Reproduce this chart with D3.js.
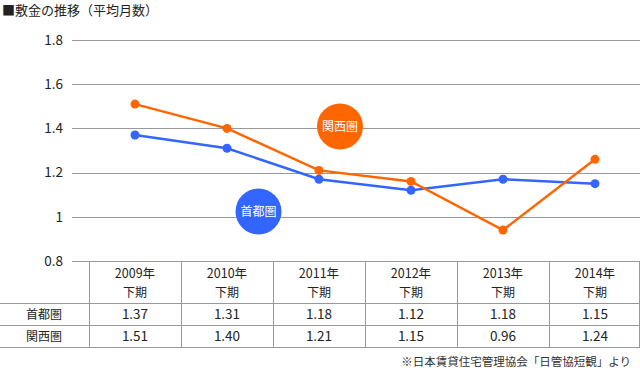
<!DOCTYPE html>
<html>
<head>
<meta charset="utf-8">
<script src="https://cdn.jsdelivr.net/npm/d3@7"></script>
<style>
  body { margin: 0; background: #fff; }
  svg text { font-family: "Noto Sans CJK JP", "Noto Sans", sans-serif; fill: #222; }
</style>
</head>
<body>
<svg id="chart" width="640" height="370"></svg>
<script>
// categories (two-line header labels)
const years = ["2009年", "2010年", "2011年", "2012年", "2013年", "2014年"];
const halves = ["下期", "下期", "下期", "下期", "下期", "下期"];
// plotted values as they sit in the picture
const shutoValues = [1.37, 1.31, 1.17, 1.12, 1.17, 1.15];
const kansaiValues = [1.51, 1.40, 1.21, 1.16, 0.94, 1.26];
// table texts
const shutoTable = ["1.37", "1.31", "1.18", "1.12", "1.18", "1.15"];
const kansaiTable = ["1.51", "1.40", "1.21", "1.15", "0.96", "1.24"];
const yTicks = [0.8, 1, 1.2, 1.4, 1.6, 1.8];

const svg = d3.select("#chart");
const gridColor = "#999";
const blue = "#3366ff", orange = "#ff6600";

//Scales
const x = d3.scaleBand().domain(d3.range(years.length)).range([89, 641]);
const y = d3.scaleLinear().domain([0.8, 1.8]).range([261, 40]);

//Title
svg.append("text").attr("x", 2).attr("y", 15)
  .attr("font-size", 13).text("■敷金の推移（平均月数）");

//Grid lines + y labels
const yAxis = svg.append("g").attr("transform", "translate(72,0)")
  .call(d3.axisLeft(y).tickValues(yTicks).tickSize(0).tickPadding(9)
    .tickFormat(d => d3.format("")(d)));
yAxis.select(".domain").remove();
yAxis.selectAll("text").attr("font-size", 13.5).attr("fill", "#222")
  .attr("font-family", "\"Noto Sans CJK JP\", sans-serif");
svg.append("g").selectAll("line").data(yTicks).enter().append("line")
  .attr("x1", 72).attr("x2", 640)
  .attr("y1", d => Math.round(y(d)) + 0.5).attr("y2", d => Math.round(y(d)) + 0.5)
  .attr("stroke", gridColor);

//Table
const tbl = svg.append("g");
const rowLines = [303, 325, 347];
rowLines.forEach(r => tbl.append("line").attr("x1", 0).attr("x2", 640)
  .attr("y1", r + 0.5).attr("y2", r + 0.5).attr("stroke", gridColor));
const colEdges = d3.range(years.length).map(i => x(i)).concat([639]);
colEdges.forEach(c => tbl.append("line")
  .attr("x1", Math.round(c) + 0.5).attr("x2", Math.round(c) + 0.5)
  .attr("y1", 261).attr("y2", 347).attr("stroke", gridColor));

const cx = i => x(i) + x.bandwidth() / 2;
tbl.selectAll(".yr").data(years).enter().append("text")
  .attr("x", (d, i) => cx(i)).attr("y", 278).attr("text-anchor", "middle")
  .attr("font-size", 12.5).text(d => d);
tbl.selectAll(".hf").data(halves).enter().append("text")
  .attr("x", (d, i) => cx(i)).attr("y", 297).attr("text-anchor", "middle")
  .attr("font-size", 12).text(d => d);

const rows = [["首都圏", shutoTable, 319], ["関西圏", kansaiTable, 341]];
rows.forEach(([name, vals, ty]) => {
  tbl.append("text").attr("x", 44).attr("y", ty).attr("text-anchor", "middle")
    .attr("font-size", 12).text(name);
  tbl.selectAll(null).data(vals).enter().append("text")
    .attr("x", (d, i) => cx(i)).attr("y", ty).attr("text-anchor", "middle")
    .attr("font-size", 13.5).text(d => d);
});

//Lines and markers
const line = d3.line().x((d, i) => cx(i)).y(d => y(d));
[[shutoValues, blue], [kansaiValues, orange]].forEach(([vals, col]) => {
  svg.append("path").datum(vals).attr("d", line)
    .attr("fill", "none").attr("stroke", col).attr("stroke-width", 2.5);
  svg.append("g").selectAll("circle").data(vals).enter().append("circle")
    .attr("cx", (d, i) => cx(i)).attr("cy", d => y(d)).attr("r", 4.5)
    .attr("fill", col);
});

//Series bubbles
const bubbles = [["関西圏", orange, 340, 126.5], ["首都圏", blue, 258.5, 211.5]];
bubbles.forEach(([name, col, bx, by]) => {
  svg.append("circle").attr("cx", bx).attr("cy", by).attr("r", 23).attr("fill", col);
  svg.append("text").attr("x", bx).attr("y", by + 4.5).attr("text-anchor", "middle")
    .attr("font-size", 12).style("fill", "#fff").text(name);
});

//Source note
svg.append("text").attr("x", 631).attr("y", 366).attr("text-anchor", "end")
  .attr("font-size", 11.5).style("fill", "#333").text("※日本賃貸住宅管理協会「日管協短観」より");
</script>
</body>
</html>
